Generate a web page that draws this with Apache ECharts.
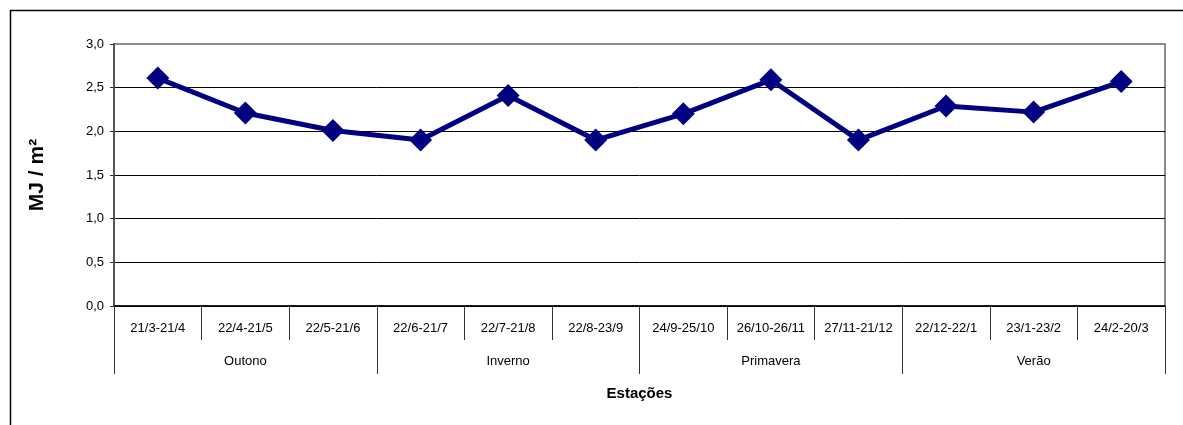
<!DOCTYPE html>
<html>
<head>
<meta charset="utf-8">
<script src="https://cdn.jsdelivr.net/npm/echarts@6/dist/echarts.min.js"></script>
<style>
	html, body { margin: 0; padding: 0; background: #fff; }
	#chart { width: 1183px; height: 425px; }
</style>
</head>
<body>
<div id="chart"></div>
<script>
const periods = [
	"21/3-21/4", "22/4-21/5", "22/5-21/6",
	"22/6-21/7", "22/7-21/8", "22/8-23/9",
	"24/9-25/10", "26/10-26/11", "27/11-21/12",
	"22/12-22/1", "23/1-23/2", "24/2-20/3",
];
const seasons = ["Outono", "Inverno", "Primavera", "Verão"];
const values = [2.61, 2.21, 2.01, 1.9, 2.41, 1.9, 2.2, 2.59, 1.9, 2.29, 2.22, 2.57];

const font = "Liberation Sans, Arial, sans-serif";

const option = {
	animation: false,
	grid: {
		left: 114,
		right: 18,
		top: 44,
		bottom: 119,
		show: true,
		borderColor: "#8c8c8c",
		borderWidth: 2,
	},
	graphic: [
		{
			type: "rect",
			shape: { x: 10.5, y: 10.5, width: 1200, height: 500 },
			style: { fill: null, stroke: "#000", lineWidth: 1.5 },
			silent: true,
		},
	],
	xAxis: [
		{
			type: "category",
			data: periods,
			position: "bottom",
			axisLine: { lineStyle: { color: "#000", width: 1.5 } },
			axisTick: { show: true, length: 34, lineStyle: { color: "#333" } },
			axisLabel: { interval: 0, margin: 16, color: "#000", fontSize: 13, fontFamily: font },
			name: "Estações",
			nameLocation: "middle",
			nameGap: 80,
			nameTextStyle: { fontSize: 15, fontWeight: "bold", fontFamily: font, color: "#000" },
		},
		{
			type: "category",
			data: seasons,
			position: "bottom",
			axisLine: { show: false },
			axisTick: { show: true, length: 68, lineStyle: { color: "#333" } },
			axisLabel: { interval: 0, margin: 49, color: "#000", fontSize: 13, fontFamily: font },
		},
	],
	yAxis: {
		type: "value",
		min: 0,
		max: 3,
		interval: 0.5,
		axisLine: { show: true, lineStyle: { color: "#555", width: 2 } },
		axisTick: { show: true, length: 4, lineStyle: { color: "#333" } },
		axisLabel: {
			color: "#000",
			fontSize: 13,
			fontFamily: font,
			margin: 10,
			formatter: (v) => v.toFixed(1).replace(".", ","),
		},
		splitLine: { show: true, showMaxLine: false, lineStyle: { color: "#000", width: 1 } },
		name: "MJ / m²",
		nameLocation: "middle",
		nameGap: 66,
		nameRotate: 90,
		nameTextStyle: { fontSize: 21, fontWeight: "bold", fontFamily: font, color: "#000" },
	},
	series: [
		{
			type: "line",
			xAxisIndex: 0,
			data: values,
			symbol: "diamond",
			symbolSize: 23,
			lineStyle: { color: "#000080", width: 5 },
			itemStyle: { color: "#000080" },
		},
	],
};

const chart = echarts.init(document.getElementById("chart"));
chart.setOption(option);
</script>
</body>
</html>
